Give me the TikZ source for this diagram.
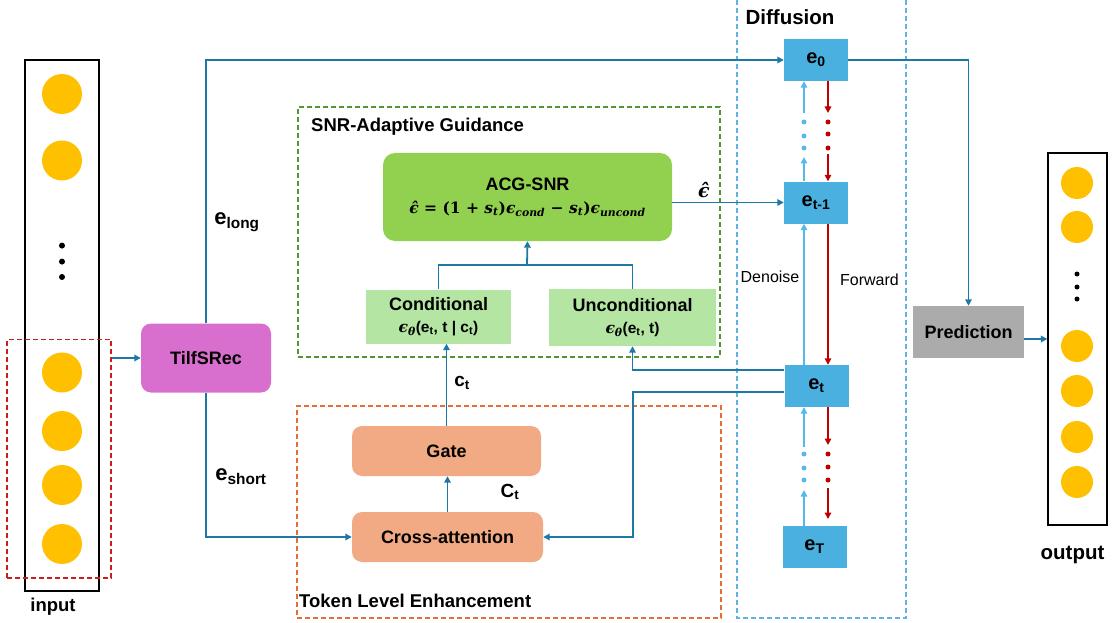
\documentclass[tikz,border=0pt]{standalone}
\usepackage[no-math]{fontspec}
\setmainfont{Liberation Sans}
\newfontfamily\mth{DejaVu Serif}
\usetikzlibrary{arrows.meta,calc}
\definecolor{conn}{RGB}{30,120,165}
\definecolor{dblue}{RGB}{85,185,235}
\definecolor{ebox}{RGB}{74,176,224}
\definecolor{dred}{RGB}{192,0,0}
\definecolor{ycol}{RGB}{255,192,0}
\definecolor{mag}{RGB}{216,110,205}
\definecolor{acg}{RGB}{146,208,80}
\definecolor{lgreen}{RGB}{180,229,163}
\definecolor{orng}{RGB}{242,170,132}
\definecolor{gdash}{RGB}{80,150,50}
\definecolor{odash}{RGB}{230,110,50}
\definecolor{bdash}{RGB}{95,180,225}
\definecolor{rdash}{RGB}{200,30,30}
\definecolor{pgray}{RGB}{171,171,171}
\newcommand{\mi}[1]{{\mth\bfseries\itshape #1}}
\newcommand{\msub}[1]{\textsubscript{\mth\bfseries\itshape #1}}
\begin{document}
\begin{tikzpicture}[x=1pt,y=-1pt,
  arr/.style={-{Triangle[length=6.5pt,width=6.5pt]}},
  cn/.style={draw=conn,line width=1.8pt},
  dn/.style={draw=dblue,line width=1.5pt},
  fw/.style={draw=dred,line width=1.5pt},
  lbl/.style={font=\bfseries\fontsize{18.5}{21}\selectfont,inner sep=0pt,align=center},
  rbox/.style={rounded corners=10pt,inner sep=0pt,align=center,font=\bfseries\fontsize{18}{21}\selectfont},
  sbox/.style={inner sep=0pt,align=center,font=\bfseries\fontsize{18}{21}\selectfont},
  ebx/.style={fill=ebox,inner sep=0pt,minimum width=64pt,minimum height=42pt,font=\bfseries\fontsize{20}{22}\selectfont},
  incirc/.style={circle,fill=ycol,inner sep=0pt,minimum size=40pt},
  outcirc/.style={circle,fill=ycol,inner sep=0pt,minimum size=32pt},
  bdot/.style={circle,fill=black,inner sep=0pt,minimum size=6pt},
  bdots/.style={circle,fill=dblue,inner sep=0pt,minimum size=5pt},
  rdots/.style={circle,fill=dred,inner sep=0pt,minimum size=5pt},
  dashbox/.style={line width=1.1pt,dash pattern=on 5pt off 3pt},
  plain/.style={inner sep=0pt,font=\fontsize{16}{18}\selectfont}
]
\useasboundingbox (0,0) rectangle (1114,623);

% ---------- input ----------
\node[draw=black,line width=1.3pt,minimum width=74pt,minimum height=531pt,inner sep=0pt] (inbox) at (62,325.5) {};
\node[incirc] (i1) at (62,94) {};
\node[incirc] (i2) at (62,160.5) {};
\node[bdot] (id1) at (62,245.6) {};
\node[bdot] (id2) at (62,261.6) {};
\node[bdot] (id3) at (62,277) {};
\node[incirc] (i3) at (62,372.5) {};
\node[incirc] (i4) at (62,431) {};
\node[incirc] (i5) at (62,485) {};
\node[incirc] (i6) at (62,544) {};
\node[draw=rdash,dashbox,minimum width=104pt,minimum height=238.5pt,inner sep=0pt] (sel) at (59,458.75) {};
\node[lbl] (inlbl) at (53,607) {input};

% ---------- TilfSRec ----------
\node[rbox,fill=mag,minimum width=130pt,minimum height=69pt] (tilf) at (206,358) {TilfSRec};
\draw[cn,arr] (tilf.west -| sel.east) -- (tilf.west);

% ---------- dashed groups ----------
\node[draw=gdash,dashbox,minimum width=422pt,minimum height=250pt,inner sep=0pt] (snrg) at (509,232) {};
\node[lbl,anchor=west] (snrt) at (311,127) {SNR-Adaptive Guidance};
\node[draw=odash,dashbox,minimum width=424pt,minimum height=212pt,inner sep=0pt] (tle) at (509,512) {};
\node[lbl,anchor=west] (tlet) at (299,601) {Token Level Enhancement};
\draw[draw=bdash,dashbox] (737,0) -- (737,618) -- (906,618) -- (906,0);
\node[lbl,font=\bfseries\fontsize{20.5}{22}\selectfont] (dift) at (790,17) {Diffusion};

% ---------- guidance ----------
\node[rbox,fill=acg,minimum width=289pt,minimum height=88pt,rounded corners=12pt] (acg) at (527.5,197)
  {ACG-SNR\\[2pt]{\fontsize{15.5}{18}\selectfont\mth\bfseries
   \mi{ϵ̂} = (1 + \mi{s}\msub{t})\mi{ϵ}\msub{cond} − \mi{s}\msub{t})\mi{ϵ}\msub{uncond}}};
\node[sbox,fill=lgreen,minimum width=145pt,minimum height=54pt] (cond) at (438.5,316.5)
  {Conditional\\[1pt]{\fontsize{15.5}{17}\selectfont\mi{ϵ}\msub{θ}(e\textsubscript{t}, t | c\textsubscript{t})}};
\node[sbox,fill=lgreen,minimum width=167pt,minimum height=57pt] (uncond) at (632.5,317.5)
  {Unconditional\\[1pt]{\fontsize{15.5}{17}\selectfont\mi{ϵ}\msub{θ}(e\textsubscript{t}, t)}};

% ---------- token level ----------
\node[rbox,fill=orng,minimum width=189pt,minimum height=50pt] (gate) at (446.5,451) {Gate};
\node[rbox,fill=orng,minimum width=191pt,minimum height=50pt] (ca) at (447.5,537) {Cross-attention};

% ---------- diffusion boxes ----------
\node[ebx] (e0) at (816,60) {e\textsubscript{0}};
\node[ebx] (etm1) at (816,202.5) {e\textsubscript{t-1}};
\node[ebx] (et) at (816.5,386) {e\textsubscript{t}};
\node[ebx] (eT) at (814.5,547) {e\textsubscript{T}};

% ---------- prediction / output ----------
\node[sbox,fill=pgray,minimum width=111pt,minimum height=52pt] (pred) at (968.5,332) {Prediction};
\node[draw=black,line width=1.3pt,minimum width=59pt,minimum height=372pt,inner sep=0pt] (outbox) at (1077.5,339) {};
\node[outcirc] (o1) at (1077,183) {};
\node[outcirc] (o2) at (1077,227) {};
\node[bdot,minimum size=5pt] (od1) at (1077,274) {};
\node[bdot,minimum size=5pt] (od2) at (1077,287) {};
\node[bdot,minimum size=5pt] (od3) at (1077,299) {};
\node[outcirc] (o3) at (1077,346) {};
\node[outcirc] (o4) at (1077,391) {};
\node[outcirc] (o5) at (1077,437) {};
\node[outcirc] (o6) at (1077,482) {};
\node[lbl,font=\bfseries\fontsize{20.5}{22}\selectfont] (outlbl) at (1072.5,555) {output};

% ---------- connectors ----------
\draw[cn,arr] (tilf.north) |- (e0.west);
\draw[cn,arr] (tilf.south) |- (ca.west);
\node[lbl,font=\bfseries\fontsize{22}{24}\selectfont] (elong) at (237,222) {e\textsubscript{long}};
\node[lbl,font=\bfseries\fontsize{22}{24}\selectfont] (eshort) at (241,477) {e\textsubscript{short}};

\draw[cn,arr] (acg.east |- etm1.west) -- (etm1.west);
\node[plain,font=\fontsize{19}{21}\selectfont] (epshat) at (704,190) {\mi{ϵ̂}};

\coordinate (j) at (527,265);
\draw[cn] (cond.north) |- (j) -| (uncond.north);
\draw[cn,arr] (j) -- (acg.south);

\draw[cn,arr] ([yshift=16pt]et.west) -| (uncond.south);
\coordinate (bend) at (633,392);
\draw[cn,arr] ([yshift=-6pt]et.west) -- (bend) |- (ca.east);

\draw[cn,arr] (ca.north) -- (ca.north |- gate.south);
\draw[cn,arr] (gate.north) -- (gate.north |- cond.south);
\node[lbl,font=\bfseries\fontsize{19}{21}\selectfont] (ctl) at (462,383) {c\textsubscript{t}};
\node[lbl,font=\bfseries\fontsize{19}{21}\selectfont] (Ctl) at (510,492) {C\textsubscript{t}};

\draw[cn,arr] (e0.east) -| (pred.north);
\draw[cn,arr] ($(pred.east)+(0,7)$) -- (outbox.west);

% ---------- diffusion arrows ----------
\draw[dn,arr] (804,113) -- ($(e0.south)+(-12,0)$);
\node[bdots] (b1) at (804,122) {};
\node[bdots] (b2) at (804,136) {};
\node[bdots] (b3) at (804,148) {};
\draw[dn,arr] ($(etm1.north)+(-12,0)$) -- (804,157);
\draw[dn,arr] ($(et.north)+(-12.5,0)$) -- ($(etm1.south)+(-12,0)$);
\draw[dn,arr] (804,447) -- ($(et.south)+(-12.5,0)$);
\node[bdots] (b4) at (804,454) {};
\node[bdots] (b5) at (804,468) {};
\node[bdots] (b6) at (804,480) {};
\draw[dn,arr] ($(eT.north)+(-10.5,0)$) -- (804,490);
\draw[fw,arr] ($(e0.south)+(12,0)$) -- (828,113);
\node[rdots] (r1) at (828,122) {};
\node[rdots] (r2) at (828,134) {};
\node[rdots] (r3) at (828,148) {};
\draw[fw,arr] (828,154) -- ($(etm1.north)+(12,0)$);
\draw[fw,arr] ($(etm1.south)+(12,0)$) -- ($(et.north)+(11.5,0)$);
\draw[fw,arr] ($(et.south)+(11.5,0)$) -- (828,445);
\node[rdots] (r4) at (828,454) {};
\node[rdots] (r5) at (828,467) {};
\node[rdots] (r6) at (828,480) {};
\draw[fw,arr] (828,488) -- (828,519);
\node[plain] (dnl) at (770,277) {Denoise};
\node[plain] (fwl) at (869.5,280) {Forward};
\end{tikzpicture}
\end{document}
